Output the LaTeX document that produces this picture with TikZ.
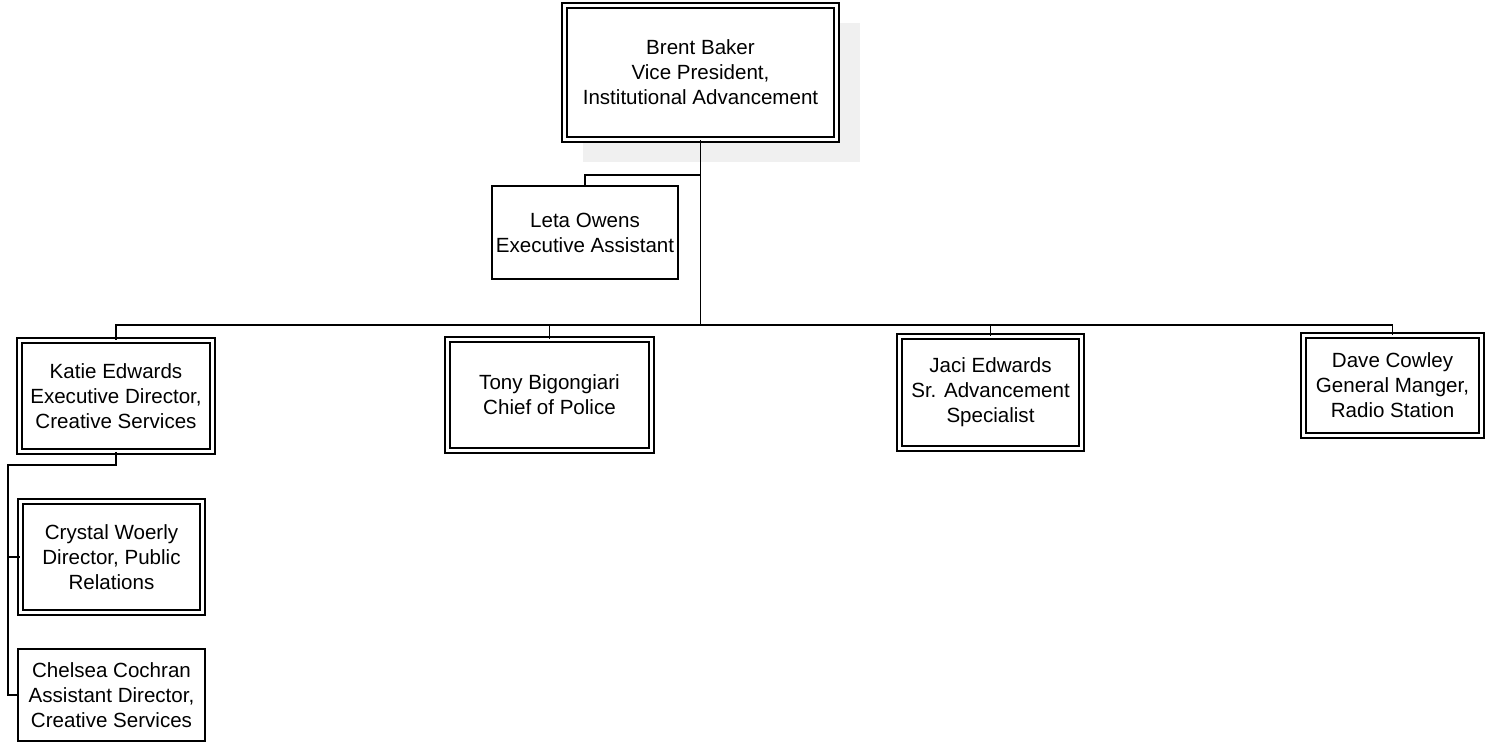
\documentclass[tikz,border=0pt]{standalone}
\usepackage{fontspec}
\setmainfont{Liberation Sans}
\usepackage{tikz}
\usetikzlibrary{positioning,calc}

\begin{document}
\begin{tikzpicture}[
    x=0.02cm, y=-0.02cm,
    person/.style={rectangle, draw=black, line width=1.1pt, fill=white, align=center, inner sep=0pt, font=\fontsize{11.7}{14.2}\selectfont},
    head/.style={person, line width=0.95pt, double, double distance=1.8pt},
    link/.style={draw=black, line width=1.1pt}
]
    \useasboundingbox (0,0) rectangle (1486,743);
    % shadow behind the top box
    \fill[black!6] (583,23) rectangle (860,162);

    \node[head, minimum width=272*0.02cm, minimum height=134*0.02cm] (brent) at (700.5,72.5) {Brent Baker\\Vice President,\\Institutional Advancement};
    \node[person, minimum width=186*0.02cm, minimum height=93*0.02cm] (leta) at (585,232.5) {Leta Owens\\Executive Assistant};
    \node[head, minimum width=193*0.02cm, minimum height=111*0.02cm] (katie) at (116,396) {Katie Edwards\\Executive Director,\\Creative Services};
    \node[head, minimum width=204*0.02cm, minimum height=111*0.02cm] (tony) at (549.5,395) {Tony Bigongiari\\Chief of Police};
    \node[head, minimum width=182*0.02cm, minimum height=112*0.02cm] (jaci) at (990.5,392.5) {Jaci Edwards\\Sr. Advancement\\Specialist};
    \node[head, minimum width=178*0.02cm, minimum height=100*0.02cm] (dave) at (1392.5,385.5) {Dave Cowley\\General Manger,\\Radio Station};
    \node[head, minimum width=182*0.02cm, minimum height=111*0.02cm] (crystal) at (111.5,557) {Crystal Woerly\\Director, Public\\Relations};
    \node[person, minimum width=187*0.02cm, minimum height=92*0.02cm] (chelsea) at (111.5,695) {Chelsea Cochran\\Assistant Director,\\Creative Services};

    \coordinate (aside) at (brent.south |- 0,175);
    \coordinate (bus) at (brent.south |- 0,325);
    \coordinate (kbend) at (8,465);

    \draw[link] (brent.south) -- (bus);
    \draw[link] (aside) -| (leta.north);
    \foreach \n in {katie,tony,jaci,dave}
        \draw[link] (bus) -| (\n.north);
    \draw[link] (katie.south) |- (kbend) |- (crystal.west);
    \draw[link] (kbend) |- (chelsea.west);
\end{tikzpicture}
\end{document}
